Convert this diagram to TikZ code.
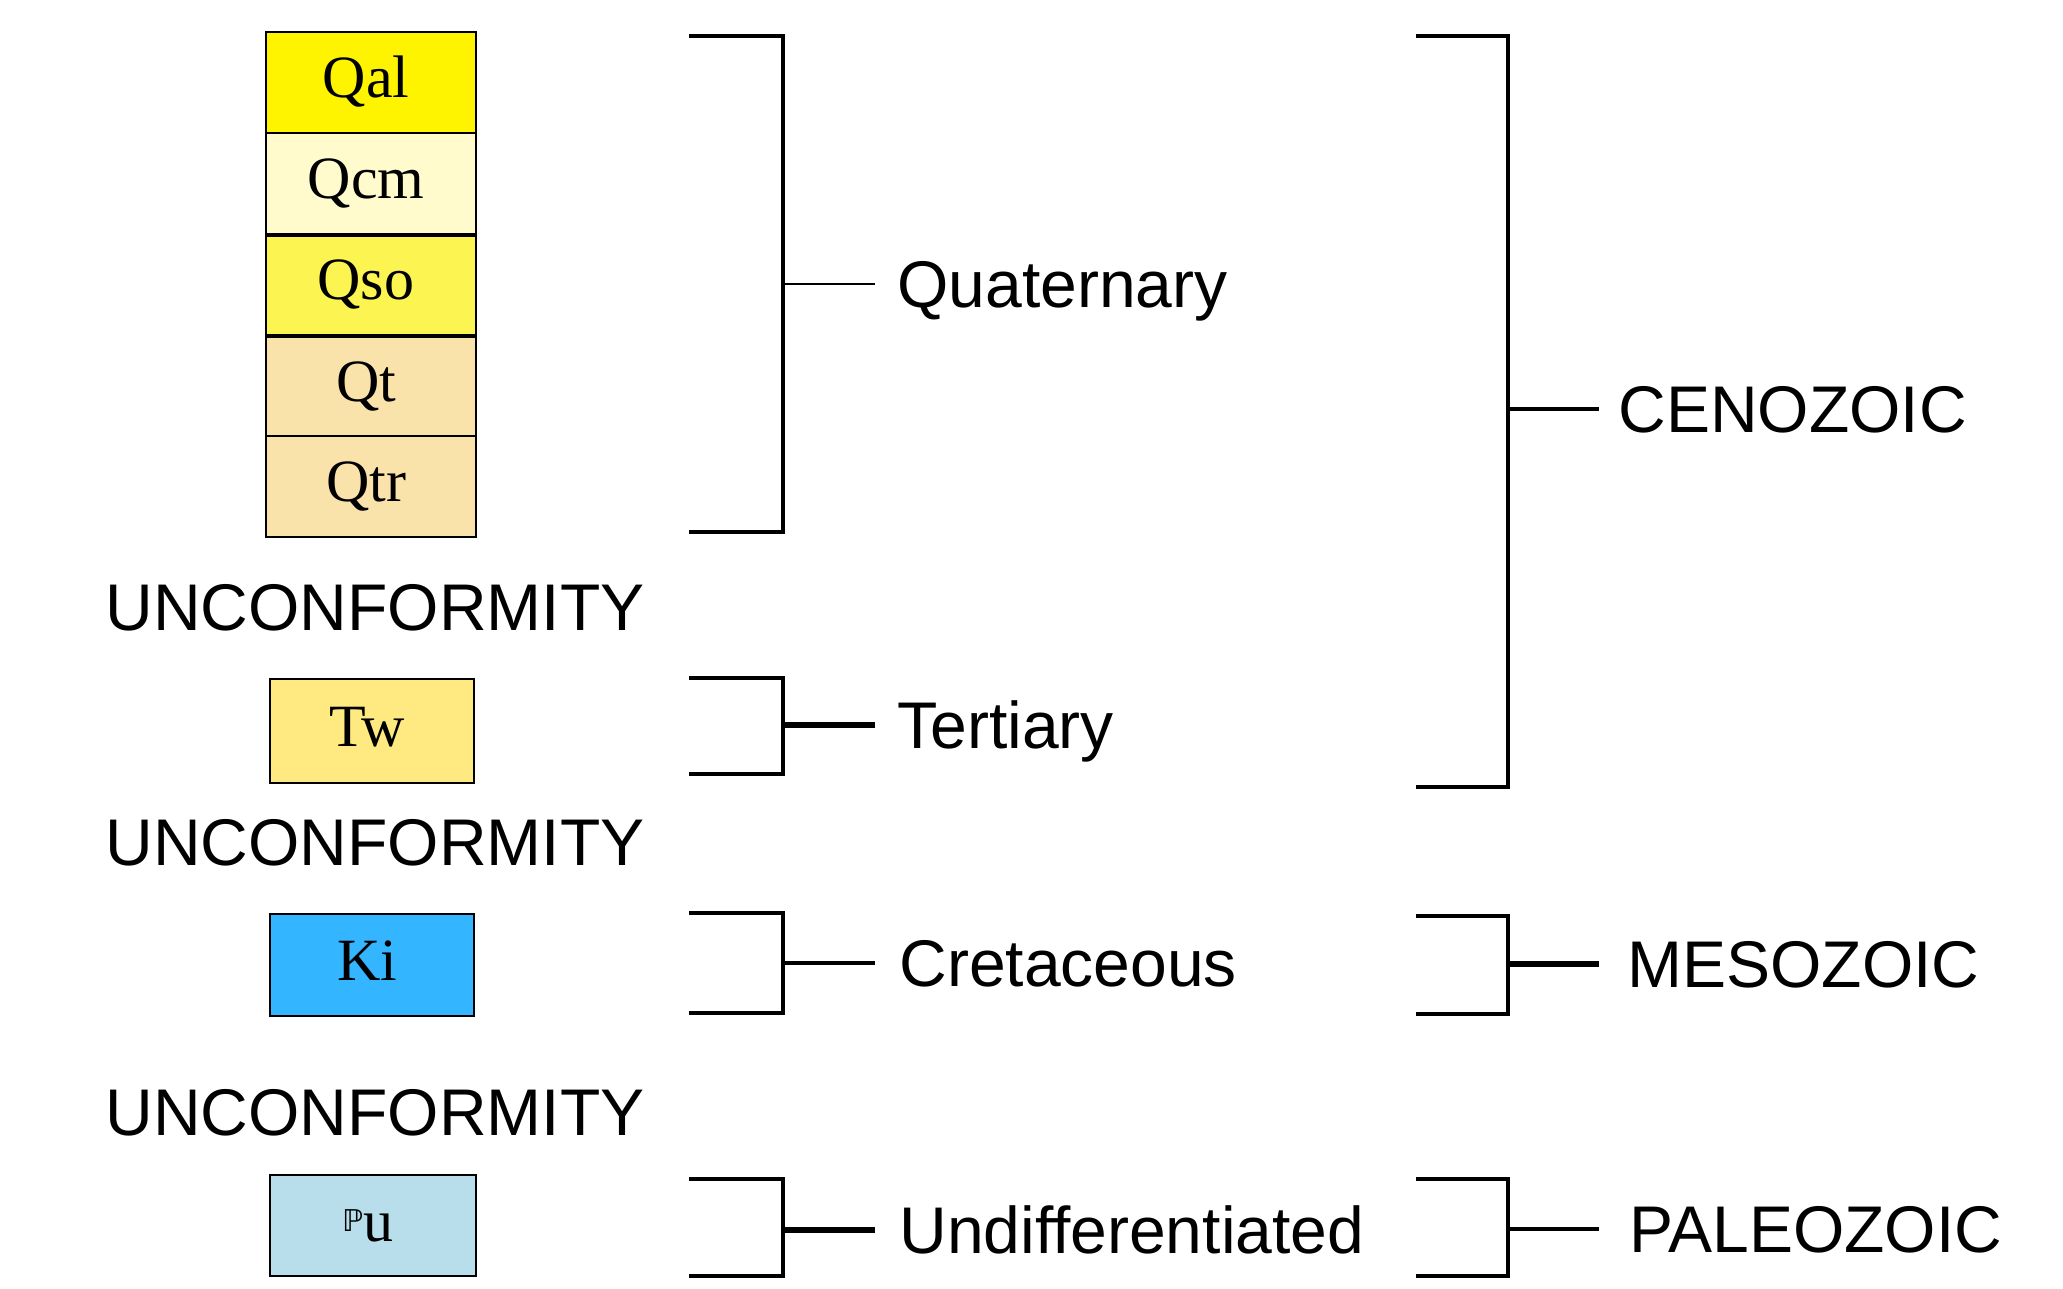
\documentclass[tikz,border=0pt]{standalone}
\usepackage{fontspec}
\setmainfont{Liberation Sans}
\newfontfamily\serifbox{Liberation Serif}
\newfontfamily\djv{DejaVu Sans}
\definecolor{cQal}{RGB}{255,244,0}
\definecolor{cQcm}{RGB}{255,251,205}
\definecolor{cQso}{RGB}{252,244,80}
\definecolor{cQt}{RGB}{250,227,170}
\definecolor{cTw}{RGB}{254,234,128}
\definecolor{cKi}{RGB}{51,181,255}
\definecolor{cPu}{RGB}{185,222,235}
\newcommand{\boxtxt}[1]{#1\kern5pt}
\begin{document}
\begin{tikzpicture}[x=0.5pt,y=-0.5pt,
  unitbox/.style={draw=black, line width=1.2pt, minimum width=105pt, minimum height=50.5pt,
    inner sep=0pt, font=\serifbox\fontsize{30}{30}\selectfont, text height=15.5pt, text depth=0pt},
  lbl/.style={anchor=west, font=\fontsize{33}{33}\selectfont, text height=23.6pt, text depth=0pt, inner ysep=0pt},
  unconf/.style={font=\fontsize{33}{33}\selectfont, text height=23.6pt, text depth=0pt, inner sep=0pt},
  brk/.style={line width=2pt}]
\useasboundingbox (0,0) rectangle (2063,1289);
\fill[white] (0,0) rectangle (2063,1289);

% unit boxes
\node[unitbox, fill=cQal] (qal) at (371,82.5) {\boxtxt{Qal}};
\node[unitbox, fill=cQcm] (qcm) at (371,183.5) {\boxtxt{Qcm}};
\node[unitbox, fill=cQso] (qso) at (371,284.5) {\boxtxt{Qso}};
\node[unitbox, fill=cQt] (qt) at (371,385.5) {\boxtxt{Qt}};
\node[unitbox, fill=cQt] (qtr) at (371,486.5) {\boxtxt{Qtr}};
\draw[line width=2pt] (qcm.south west) -- (qcm.south east);
\draw[line width=2pt] (qso.south west) -- (qso.south east);

\node[unconf] (u1) at (375,607) {UNCONFORMITY};
\node[unitbox, fill=cTw, minimum width=102pt, minimum height=52pt] (tw) at (372,731) {\boxtxt{Tw}};
\node[unconf] (u2) at (375,842) {UNCONFORMITY};
\node[unitbox, fill=cKi, minimum width=102pt, minimum height=51pt] (ki) at (372,965) {\boxtxt{Ki}};
\node[unconf] (u3) at (375,1112) {UNCONFORMITY};
\node[unitbox, fill=cPu, minimum width=103pt, minimum height=50.5pt] (pu) at (373,1225.5)
  {\boxtxt{\raisebox{5pt}{\djv\fontsize{15}{15}\selectfont ℙ}u}};

% period labels
\node[lbl, inner xsep=11pt] (quat) at (875,284) {Quaternary};
\node[lbl, inner xsep=11pt] (tert) at (875,725) {Tertiary};
\node[lbl, inner xsep=12pt] (cret) at (875,963) {Cretaceous};
\node[lbl, inner xsep=12pt] (undiff) at (875,1230) {Undifferentiated};
% era labels
\node[lbl, inner xsep=9.5pt] (ceno) at (1599,409) {CENOZOIC};
\node[lbl, inner xsep=14pt] (meso) at (1599,964) {MESOZOIC};
\node[lbl, inner xsep=15pt] (paleo) at (1599,1229) {PALEOZOIC};

% bracket coordinates
\coordinate (qm) at (783,284);
\coordinate (tm) at (783,725);
\coordinate (cm) at (783,963);
\coordinate (um) at (783,1230);
\coordinate (cem) at (1508,409);
\coordinate (mm) at (1508,964);
\coordinate (pm) at (1508,1229);

% period brackets
\draw[brk] (689,36) -- (783,36) -- (783,532) -- (689,532);
\draw[brk] (689,678) -- (783,678) -- (783,774) -- (689,774);
\draw[brk] (689,913) -- (783,913) -- (783,1013) -- (689,1013);
\draw[brk] (689,1179) -- (783,1179) -- (783,1276) -- (689,1276);
% era brackets
\draw[brk] (1416,36) -- (1508,36) -- (1508,787) -- (1416,787);
\draw[brk] (1416,916) -- (1508,916) -- (1508,1014) -- (1416,1014);
\draw[brk] (1416,1179) -- (1508,1179) -- (1508,1276) -- (1416,1276);

% ticks
\draw[line width=1pt] (qm) -- (quat.west);
\draw[line width=2.6pt] (tm) -- (tert.west);
\draw[line width=1.6pt] (cm) -- (cret.west);
\draw[line width=2.6pt] (um) -- (undiff.west);
\draw[line width=2pt] (cem) -- (ceno.west);
\draw[line width=2.6pt] (mm) -- (meso.west);
\draw[line width=1.6pt] (pm) -- (paleo.west);
\end{tikzpicture}
\end{document}
